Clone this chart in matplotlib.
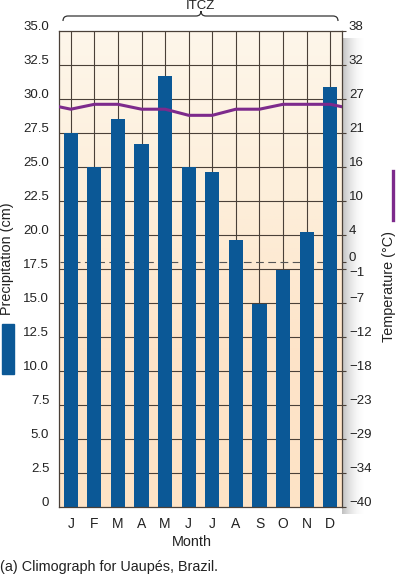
import numpy as np
import matplotlib
matplotlib.use('Agg')
import matplotlib.pyplot as plt
from matplotlib.transforms import ScaledTranslation
from matplotlib.path import Path
from matplotlib.patches import PathPatch, Rectangle
from matplotlib.lines import Line2D
from matplotlib.colors import LinearSegmentedColormap

plt.rcParams['font.family'] = ['Liberation Sans', 'DejaVu Sans']

months = ['J', 'F', 'M', 'A', 'M', 'J', 'J', 'A', 'S', 'O', 'N', 'D']
precip_cm = [27.5, 25.0, 28.5, 26.7, 31.7, 25.0, 24.6, 19.6, 14.9, 17.4, 20.2, 30.9]
temp_c = [25.0, 25.8, 25.8, 25.0, 25.0, 24.0, 24.0, 25.0, 25.0, 25.8, 25.8, 25.8]

precip_ticks = [0, 2.5, 5.0, 7.5, 10.0, 12.5, 15.0, 17.5, 20.0, 22.5, 25.0, 27.5, 30.0, 32.5, 35.0]
precip_labels = ['0', '2.5', '5.0', '7.5', '10.0', '12.5', '15.0', '17.5', '20.0',
                 '22.5', '25.0', '27.5', '30.0', '32.5', '35.0']
# right axis is linear in deg F, labelled in deg C
temp_ticks_f = [-40, -30, -20, -10, 0, 10, 20, 30, 32, 40, 50, 60, 70, 80, 90, 100]
temp_labels_c = ['\u221240', '\u221234', '\u221229', '\u221223', '\u221218', '\u221212', '\u22127',
                 '\u22121', '0', '4', '10', '16', '21', '27', '32', '38']

W, H = 397, 581
BLUE = '#0b5896'
PURPLE = '#7d2a8c'
GRID = '#4a4038'
TXT = '#222222'

fig = plt.figure(figsize=(W / 100, H / 100), dpi=100)

def fx(px):
    return px / W

def fy(py):
    return 1 - py / H

# drop shadow right of the plot box
sh = fig.add_axes([fx(342), fy(514), fx(24), (514 - 38) / H], zorder=0)
g = np.linspace(1, 0, 60) ** 2
rgba = np.zeros((2, 60, 4))
rgba[..., :3] = 0.5
rgba[..., 3] = g * 0.5
sh.imshow(rgba, aspect='auto', extent=[0, 1, 0, 1])
sh.axis('off')

ax = fig.add_axes([fx(59), fy(507), fx(342 - 59), (507 - 31) / H], zorder=2)
x = np.arange(len(months))

# background gradient
cmap = LinearSegmentedColormap.from_list('bg', ['#fde3c6', '#fde4c9', '#fdefdb', '#fef6ea'])
ax.imshow(np.linspace(0, 1, 200).reshape(-1, 1), cmap=cmap, aspect='auto',
          extent=[-0.5, 11.5, 0, 35], origin='lower', zorder=0)

for t in precip_ticks[1:-1]:
    ax.axhline(t, color=GRID, lw=0.8, zorder=1)
for xi in x:
    ax.axvline(xi, color=GRID, lw=0.8, zorder=1)
ax.plot([-0.45, 10.7], [18, 18], color='#555555', lw=0.8, ls=(0, (7, 4)), zorder=1.5)

ax.bar(x, precip_cm, width=0.6, color=BLUE, zorder=2)

ax.set_xlim(-0.5, 11.5)
ax.set_ylim(0, 35)
ax.set_xticks(x)
ax.set_xticklabels(months, fontsize=10, color=TXT)
ax.set_yticks(precip_ticks)
ax.set_yticklabels(precip_labels, fontsize=9.5, color=TXT)
ax.tick_params(axis='y', length=0, pad=7)
ax.tick_params(axis='x', length=0, pad=7)
for lab in ax.get_yticklabels():
    lab.set_transform(lab.get_transform() + ScaledTranslation(0, 0.06, fig.dpi_scale_trans))
for s in ax.spines.values():
    s.set_color(GRID)
    s.set_linewidth(0.9)

ax2 = ax.twinx()
temp_f = [c * 9 / 5 + 32 for c in temp_c]
# wrap Dec/Jan so the line runs to both box edges
ax2.plot([-1] + list(x) + [12], [temp_f[-1]] + temp_f + [temp_f[0]],
         color=PURPLE, lw=2.2, solid_joinstyle='round', zorder=3)
ax2.set_xlim(-0.5, 11.5)
ax2.set_ylim(-40, 100)
ax2.set_yticks(temp_ticks_f)
ax2.set_yticklabels(temp_labels_c, fontsize=9.5, color=TXT)
ax2.tick_params(axis='y', length=3, pad=2, color=GRID)
for lab, tl in zip(ax2.get_yticklabels(), temp_labels_c):
    dy = -0.02 if tl == '\u22121' else 0.06
    lab.set_transform(lab.get_transform() + ScaledTranslation(0, dy, fig.dpi_scale_trans))
for s in ax2.spines.values():
    s.set_visible(False)

# ITCZ brace
verts = [(63, 21), (63, 16), (68, 16), (196, 16), (201, 16), (201, 11), (201, 11),
         (201, 16), (206, 16), (333, 16), (338, 16), (338, 21)]
codes = [Path.MOVETO, Path.CURVE3, Path.CURVE3, Path.LINETO, Path.CURVE3, Path.CURVE3,
         Path.MOVETO, Path.CURVE3, Path.CURVE3, Path.LINETO, Path.CURVE3, Path.CURVE3]
brace = Path([(fx(a), fy(b)) for a, b in verts], codes)
fig.add_artist(PathPatch(brace, fc='none', ec='#333333', lw=0.9, transform=fig.transFigure))
fig.text(fx(200), fy(6), 'ITCZ', ha='center', va='center', fontsize=9.5, color=TXT)

# axis legends
fig.add_artist(Rectangle((fx(2), fy(374)), fx(12), (374 - 324) / H, color=BLUE,
                         transform=fig.transFigure))
fig.text(fx(7), fy(259), 'Precipitation (cm)', rotation=90, ha='center', va='center',
         fontsize=10.4, color=TXT)
fig.add_artist(Line2D([fx(393), fx(393)], [fy(220), fy(171)], color=PURPLE, lw=2.4,
                      transform=fig.transFigure))
fig.text(fx(389), fy(286), 'Temperature (\u00b0C)', rotation=90, ha='center', va='center',
         fontsize=10.4, color=TXT)

fig.text(fx(192), fy(542), 'Month', ha='center', va='center', fontsize=10.4, color=TXT)
fig.text(fx(0), fy(567), '(a) Climograph for Uaup\u00e9s, Brazil.', ha='left', va='center',
         fontsize=10.4, color=TXT)

fig.savefig('out.png', dpi=100)
